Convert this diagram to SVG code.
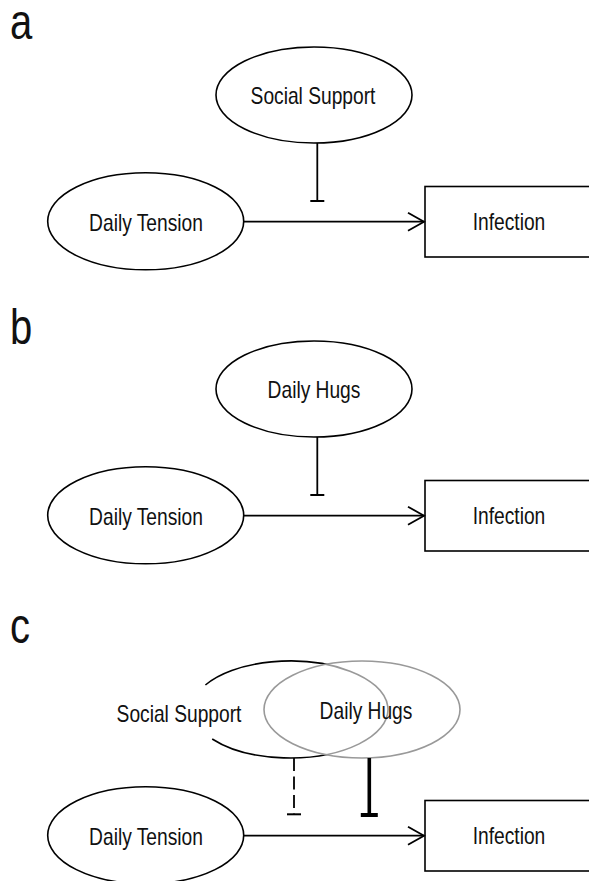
<svg xmlns="http://www.w3.org/2000/svg" width="589" height="881" viewBox="0 0 589 881">
<style>
.node{fill:#fff;stroke:#000;stroke-width:1.6}
.lbl{font-family:"Liberation Sans",Arial,sans-serif;font-size:24px;fill:#111;text-anchor:middle}
.panel{font-family:"Liberation Sans",Arial,sans-serif;font-size:50px;fill:#111}
.edge{fill:none;stroke:#000;stroke-width:1.8}
</style>
<defs>
<marker id="arrow" viewBox="-18 -11 20 22" markerWidth="20" markerHeight="22" refX="0" refY="0" orient="auto" markerUnits="userSpaceOnUse">
<path d="M-16 -9 L0 0 L-16 9" fill="none" stroke="#000" stroke-width="1.8"/>
</marker>
<marker id="tee" viewBox="-2 -9 4 18" markerWidth="4" markerHeight="18" refX="0" refY="0" orient="auto" markerUnits="userSpaceOnUse">
<path d="M0 -7 L0 7" stroke="#000" stroke-width="2"/>
</marker>
<marker id="teeThick" viewBox="-3 -10 6 20" markerWidth="6" markerHeight="20" refX="0" refY="0" orient="auto" markerUnits="userSpaceOnUse">
<path d="M0 -8.5 L0 8.5" stroke="#000" stroke-width="4"/>
</marker>
</defs>

<!-- Panel labels -->
<text class="panel" transform="translate(10,39) scale(0.8,1)">a</text>
<text class="panel" transform="translate(10,343.5) scale(0.8,1)">b</text>
<text class="panel" transform="translate(10,643) scale(0.8,1)">c</text>

<!-- Panel a -->
<g id="a-social-support">
<ellipse class="node" cx="314" cy="95" rx="98" ry="48"/>
<text class="lbl" transform="translate(313,104) scale(0.8,1)">Social Support</text>
</g>
<g id="a-daily-tension">
<ellipse class="node" cx="145.7" cy="221.3" rx="98" ry="48.5"/>
<text class="lbl" transform="translate(146,230.5) scale(0.8,1)">Daily Tension</text>
</g>
<g id="a-infection">
<rect class="node" x="425" y="186.5" width="200" height="70.5"/>
<text class="lbl" transform="translate(509,230) scale(0.8,1)">Infection</text>
</g>

<!-- Panel b -->
<g id="b-daily-hugs">
<ellipse class="node" cx="314" cy="389" rx="98" ry="48"/>
<text class="lbl" transform="translate(314,398) scale(0.8,1)">Daily Hugs</text>
</g>
<g id="b-daily-tension">
<ellipse class="node" cx="145.7" cy="515.3" rx="98" ry="48.5"/>
<text class="lbl" transform="translate(146,524.5) scale(0.8,1)">Daily Tension</text>
</g>
<g id="b-infection">
<rect class="node" x="425" y="480.5" width="200" height="70.5"/>
<text class="lbl" transform="translate(509,524) scale(0.8,1)">Infection</text>
</g>

<!-- Panel c -->
<g id="c-social-support">
<path d="M205.4 685 A98 48.5 0 1 1 212.2 739" fill="none" stroke="#000" stroke-width="1.6"/>
<text class="lbl" transform="translate(179,722) scale(0.8,1)">Social Support</text>
</g>
<g id="c-daily-hugs">
<ellipse cx="362" cy="709.5" rx="98" ry="48.5" fill="#fff" fill-opacity="0.6" stroke="#999" stroke-width="1.6"/>
<text class="lbl" transform="translate(366,718.5) scale(0.8,1)">Daily Hugs</text>
</g>
<g id="c-daily-tension">
<ellipse class="node" cx="145.7" cy="835.3" rx="98" ry="48.5"/>
<text class="lbl" transform="translate(146,844.5) scale(0.8,1)">Daily Tension</text>
</g>
<g id="c-infection">
<rect class="node" x="425" y="800.5" width="200" height="70.5"/>
<text class="lbl" transform="translate(509,844) scale(0.8,1)">Infection</text>
</g>

<!-- Connectors -->
<g id="connectors">
<line class="edge" x1="243.7" y1="221.7" x2="424" y2="221.7" marker-end="url(#arrow)"/>
<line class="edge" x1="317.3" y1="143" x2="317.3" y2="201" marker-end="url(#tee)"/>
<line class="edge" x1="243.7" y1="515.7" x2="424" y2="515.7" marker-end="url(#arrow)"/>
<line class="edge" x1="317.3" y1="437" x2="317.3" y2="495" marker-end="url(#tee)"/>
<line class="edge" x1="243.7" y1="835.7" x2="424" y2="835.7" marker-end="url(#arrow)"/>
<line class="edge" x1="294" y1="758" x2="294" y2="814.3" stroke-dasharray="13 5.5" marker-end="url(#tee)"/>
<line x1="369.3" y1="758" x2="369.3" y2="815" stroke="#000" stroke-width="3.6" marker-end="url(#teeThick)"/>
</g>
</svg>
